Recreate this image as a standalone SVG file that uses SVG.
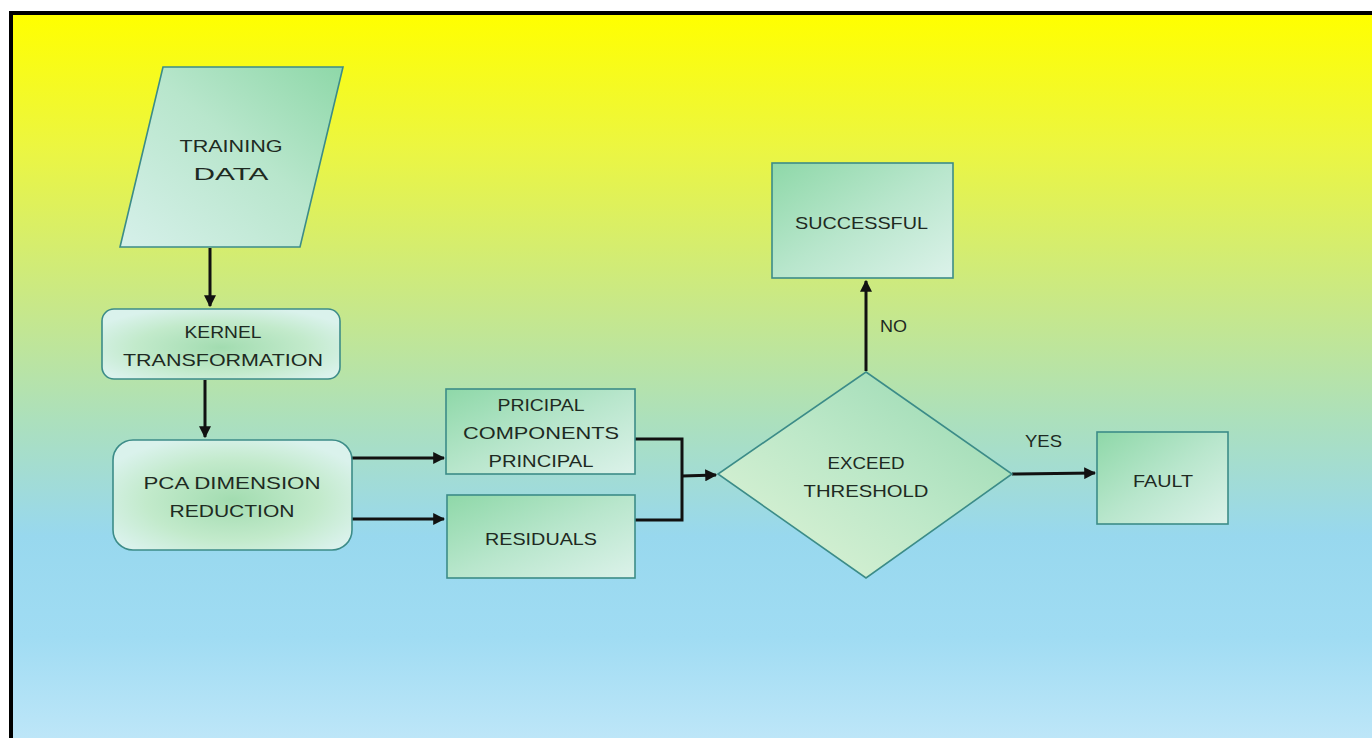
<svg xmlns="http://www.w3.org/2000/svg" width="1372" height="738" viewBox="0 0 1372 738">
  <defs>
    <linearGradient id="bg" x1="0" y1="15" x2="0" y2="738" gradientUnits="userSpaceOnUse">
      <stop offset="0" stop-color="#ffff00"/>
      <stop offset="0.18" stop-color="#ecf640"/>
      <stop offset="0.4" stop-color="#c8e888"/>
      <stop offset="0.56" stop-color="#ace0bc"/>
      <stop offset="0.72" stop-color="#98d8ee"/>
      <stop offset="0.86" stop-color="#a0dcf3"/>
      <stop offset="1" stop-color="#bde6f8"/>
    </linearGradient>
    <linearGradient id="fillA" x1="0" y1="1" x2="1" y2="0">
      <stop offset="0" stop-color="#d6f0ea"/>
      <stop offset="0.55" stop-color="#b8e6cc"/>
      <stop offset="1" stop-color="#8ed8a8"/>
    </linearGradient>
    <linearGradient id="fillB" x1="0" y1="0" x2="1" y2="1">
      <stop offset="0" stop-color="#8ed8a8"/>
      <stop offset="0.5" stop-color="#b8e6cc"/>
      <stop offset="1" stop-color="#dcf2ea"/>
    </linearGradient>
    <radialGradient id="fillR" cx="0.5" cy="0.55" r="0.6">
      <stop offset="0" stop-color="#a2dcb0"/>
      <stop offset="0.6" stop-color="#c2eacb"/>
      <stop offset="1" stop-color="#daf2ec"/>
    </radialGradient>
    <linearGradient id="fillD" x1="0" y1="1" x2="1" y2="0">
      <stop offset="0" stop-color="#e2f4d8"/>
      <stop offset="0.5" stop-color="#bde8c8"/>
      <stop offset="1" stop-color="#96d8b0"/>
    </linearGradient>
    <marker id="arr" viewBox="0 0 10 10" refX="9" refY="5" markerWidth="4" markerHeight="4" orient="auto" markerUnits="strokeWidth">
      <path d="M0,0 L10,5 L0,10 z" fill="#111"/>
    </marker>
    <style>
      .node { stroke: #3c8c88; stroke-width: 1.6; }
      .t { font-family: "Liberation Sans", Arial, sans-serif; font-size: 17px; fill: #1e2a22; text-anchor: middle; }
      .c { fill: none; stroke: #111; stroke-width: 3; }
    </style>
  </defs>

  <rect x="0" y="0" width="1372" height="738" fill="#ffffff"/>
  <rect x="13" y="15" width="1359" height="723" fill="url(#bg)"/>
  <rect x="9" y="11" width="1363" height="4" fill="#000"/>
  <rect x="9" y="11" width="4" height="727" fill="#000"/>

  <g id="connectors">
    <line class="c" x1="210" y1="248" x2="210" y2="306" marker-end="url(#arr)"/>
    <line class="c" x1="205" y1="380" x2="205" y2="437" marker-end="url(#arr)"/>
    <line class="c" x1="352" y1="458" x2="444" y2="458" marker-end="url(#arr)"/>
    <line class="c" x1="352" y1="519" x2="444" y2="519" marker-end="url(#arr)"/>
    <polyline class="c" points="635,439 682,439 682,520 635,520"/>
    <line class="c" x1="682" y1="476" x2="716" y2="475" marker-end="url(#arr)"/>
    <line class="c" x1="866" y1="371" x2="866" y2="281" marker-end="url(#arr)"/>
    <line class="c" x1="1012" y1="474" x2="1095" y2="473" marker-end="url(#arr)"/>
    <text class="t" x="893.5" y="332" textLength="27" lengthAdjust="spacingAndGlyphs">NO</text>
    <text class="t" x="1043.5" y="447" textLength="37" lengthAdjust="spacingAndGlyphs">YES</text>
  </g>

  <g id="training-data">
    <polygon class="node" points="163,67 343,67 300,247 120,247" fill="url(#fillA)"/>
    <text class="t" x="231" y="152" textLength="103" lengthAdjust="spacingAndGlyphs">TRAINING</text>
    <text class="t" x="231" y="180" textLength="75" lengthAdjust="spacingAndGlyphs">DATA</text>
  </g>

  <g id="kernel-transformation">
    <rect class="node" x="102" y="309" width="238" height="70" rx="12" fill="url(#fillR)"/>
    <text class="t" x="223" y="338" textLength="77" lengthAdjust="spacingAndGlyphs">KERNEL</text>
    <text class="t" x="223" y="366" textLength="200" lengthAdjust="spacingAndGlyphs">TRANSFORMATION</text>
  </g>

  <g id="pca-dimension-reduction">
    <rect class="node" x="113" y="440" width="239" height="110" rx="20" fill="url(#fillR)"/>
    <text class="t" x="232" y="489" textLength="177" lengthAdjust="spacingAndGlyphs">PCA DIMENSION</text>
    <text class="t" x="232" y="517" textLength="125" lengthAdjust="spacingAndGlyphs">REDUCTION</text>
  </g>

  <g id="principal-components">
    <rect class="node" x="446" y="389" width="189" height="85" fill="url(#fillB)"/>
    <text class="t" x="541" y="411" textLength="87" lengthAdjust="spacingAndGlyphs">PRICIPAL</text>
    <text class="t" x="541" y="439" textLength="156" lengthAdjust="spacingAndGlyphs">COMPONENTS</text>
    <text class="t" x="541" y="467" textLength="105" lengthAdjust="spacingAndGlyphs">PRINCIPAL</text>
  </g>

  <g id="residuals">
    <rect class="node" x="447" y="495" width="188" height="83" fill="url(#fillB)"/>
    <text class="t" x="541" y="545" textLength="112" lengthAdjust="spacingAndGlyphs">RESIDUALS</text>
  </g>

  <g id="exceed-threshold">
    <polygon class="node" points="866,372 1012,474 866,578 718,474" fill="url(#fillD)"/>
    <text class="t" x="866" y="469" textLength="77" lengthAdjust="spacingAndGlyphs">EXCEED</text>
    <text class="t" x="866" y="497" textLength="125" lengthAdjust="spacingAndGlyphs">THRESHOLD</text>
  </g>

  <g id="successful">
    <rect class="node" x="772" y="163" width="181" height="115" fill="url(#fillB)"/>
    <text class="t" x="861.5" y="229" textLength="133" lengthAdjust="spacingAndGlyphs">SUCCESSFUL</text>
  </g>

  <g id="fault">
    <rect class="node" x="1097" y="432" width="131" height="92" fill="url(#fillB)"/>
    <text class="t" x="1163" y="487" textLength="60" lengthAdjust="spacingAndGlyphs">FAULT</text>
  </g>
</svg>
